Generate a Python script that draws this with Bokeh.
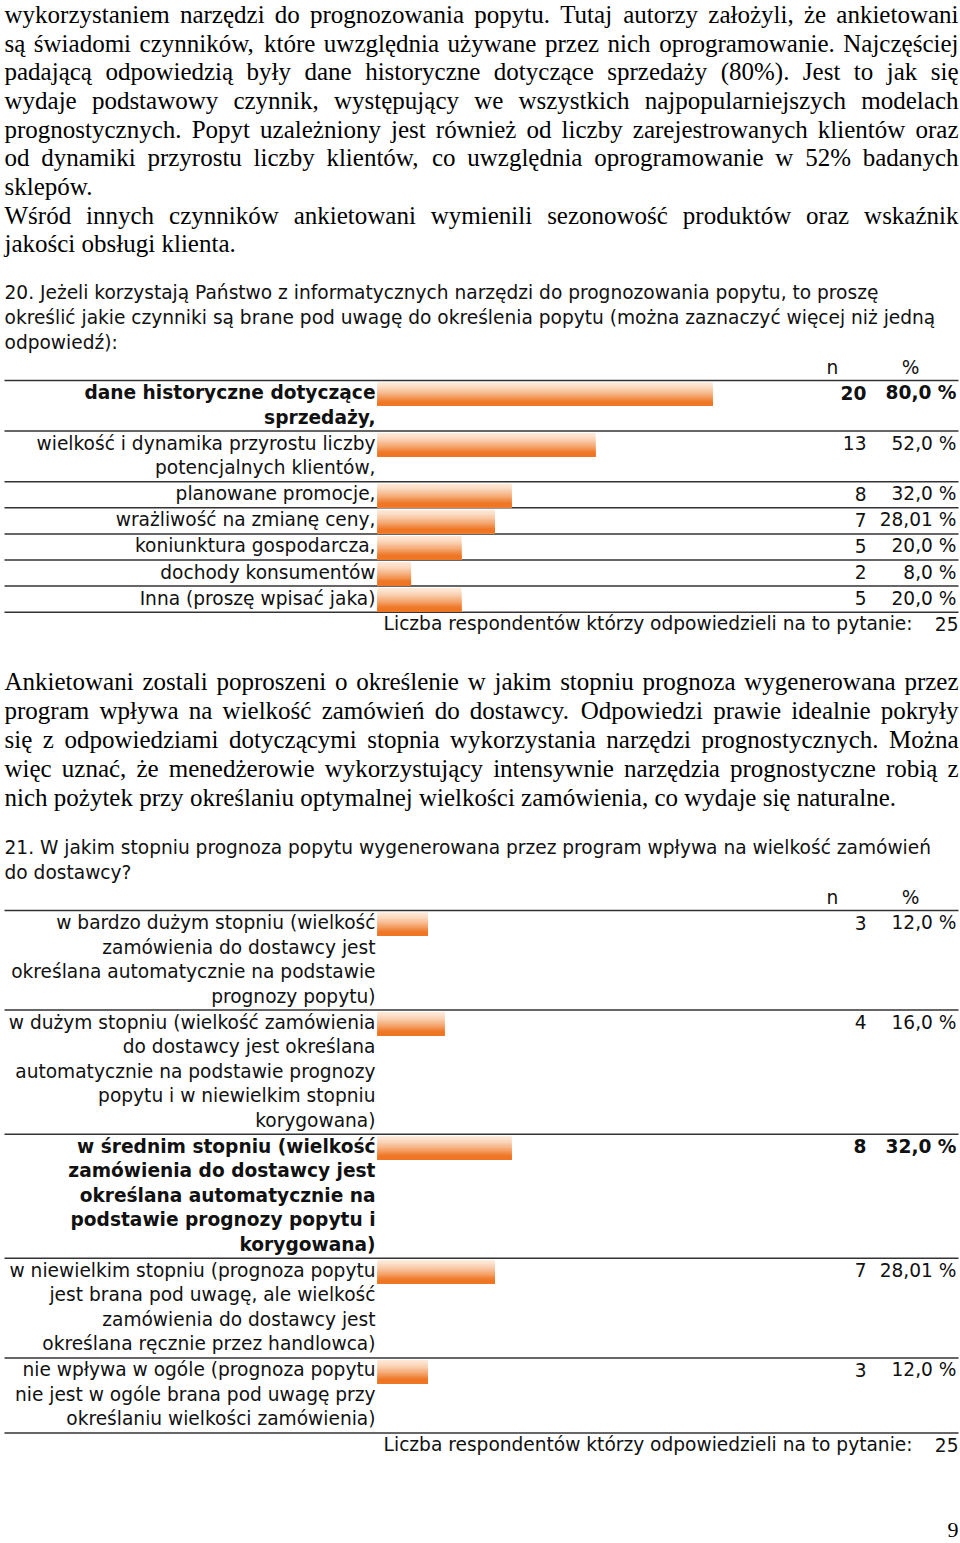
import numpy as np
from bokeh.plotting import figure
from bokeh.models import Range1d, ColumnDataSource
from bokeh.core.properties import value
from bokeh.embed import file_html
from bokeh.resources import INLINE

# ---------------- data ----------------
q20_labels = [
    "dane historyczne dotyczące\nsprzedaży,",
    "wielkość i dynamika przyrostu liczby\npotencjalnych klientów,",
    "planowane promocje,",
    "wrażliwość na zmianę ceny,",
    "koniunktura gospodarcza,",
    "dochody konsumentów",
    "Inna (proszę wpisać jaka)",
]
q20_n = [20, 13, 8, 7, 5, 2, 5]
q20_pct = [80.0, 52.0, 32.0, 28.01, 20.0, 8.0, 20.0]
q20_pct_labels = ["80,0 %", "52,0 %", "32,0 %", "28,01 %", "20,0 %", "8,0 %", "20,0 %"]
q20_total = 25

q21_labels = [
    "w bardzo dużym stopniu (wielkość\nzamówienia do dostawcy jest\nokreślana automatycznie na podstawie\nprognozy popytu)",
    "w dużym stopniu (wielkość zamówienia\ndo dostawcy jest określana\nautomatycznie na podstawie prognozy\npopytu i w niewielkim stopniu\nkorygowana)",
    "w średnim stopniu (wielkość\nzamówienia do dostawcy jest\nokreślana automatycznie na\npodstawie prognozy popytu i\nkorygowana)",
    "w niewielkim stopniu (prognoza popytu\njest brana pod uwagę, ale wielkość\nzamówienia do dostawcy jest\nokreślana ręcznie przez handlowca)",
    "nie wpływa w ogóle (prognoza popytu\nnie jest w ogóle brana pod uwagę przy\nokreślaniu wielkości zamówienia)",
]
q21_n = [3, 4, 8, 7, 3]
q21_pct = [12.0, 16.0, 32.0, 28.01, 12.0]
q21_pct_labels = ["12,0 %", "16,0 %", "32,0 %", "28,01 %", "12,0 %"]
q21_total = 25

footer_text = "Liczba respondentów którzy odpowiedzieli na to pytanie:"

para1 = [
    ("wykorzystaniem narzędzi do prognozowania popytu. Tutaj autorzy założyli, że ankietowani", True),
    ("są świadomi czynników, które uwzględnia używane przez nich oprogramowanie. Najczęściej", True),
    ("padającą odpowiedzią były dane historyczne dotyczące sprzedaży (80%). Jest to jak się", True),
    ("wydaje podstawowy czynnik, występujący we wszystkich najpopularniejszych modelach", True),
    ("prognostycznych. Popyt uzależniony jest również od liczby zarejestrowanych klientów oraz", True),
    ("od dynamiki przyrostu liczby klientów, co uwzględnia oprogramowanie w 52% badanych", True),
    ("sklepów.", False),
    ("Wśród innych czynników ankietowani wymienili sezonowość produktów oraz wskaźnik", True),
    ("jakości obsługi klienta.", False),
]
q20_question = [
    "20. Jeżeli korzystają Państwo z informatycznych narzędzi do prognozowania popytu, to proszę",
    "określić jakie czynniki są brane pod uwagę do określenia popytu (można zaznaczyć więcej niż jedną",
    "odpowiedź):",
]
para2 = [
    ("Ankietowani zostali poproszeni o określenie w jakim stopniu prognoza wygenerowana przez", True),
    ("program wpływa na wielkość zamówień do dostawcy. Odpowiedzi prawie idealnie pokryły", True),
    ("się z odpowiedziami dotyczącymi stopnia wykorzystania narzędzi prognostycznych. Można", True),
    ("więc uznać, że menedżerowie wykorzystujący intensywnie narzędzia prognostyczne robią z", True),
    ("nich pożytek przy określaniu optymalnej wielkości zamówienia, co wydaje się naturalne.", False),
]
q21_question = [
    "21. W jakim stopniu prognoza popytu wygenerowana przez program wpływa na wielkość zamówień",
    "do dostawcy?",
]
page_number = "9"

# ---------------- layout constants ----------------
W, H = 960, 1543
XR = (0, 960)
YR = (1543, 0)
SX = W / (XR[1] - XR[0])
SERIF = "Liberation Serif"
SANS = "DejaVu Sans"
SERIF_FS = 25
SANS_FS = 18.6
LEFT, RIGHT = 4, 958
LABEL_RIGHT = 375
BAR_X0 = 377
PX_PER_PCT = 4.19
N_COL_RIGHT = 866
PCT_COL_RIGHT = 956
LINE_H = 24.5
TEXT_COLOR = "#111111"
RULE_COLOR = "#333333"

# Times New Roman / Liberation Serif advance widths (1/1000 em)
TNR = {" ": 250, "%": 833, "(": 333, ")": 333, ",": 250, ".": 250, ":": 278, "-": 333, "?": 444,
       "A": 722, "B": 667, "C": 667, "D": 722, "E": 611, "F": 556, "G": 722, "H": 722, "I": 333,
       "J": 389, "K": 722, "L": 611, "M": 889, "N": 722, "O": 722, "P": 556, "R": 667, "S": 556,
       "T": 611, "U": 722, "W": 944, "Z": 611, "Ś": 556,
       "a": 444, "b": 500, "c": 444, "d": 500, "e": 444, "f": 333, "g": 500, "h": 500, "i": 278,
       "j": 278, "k": 500, "l": 278, "m": 778, "n": 500, "o": 500, "p": 500, "q": 500, "r": 333,
       "s": 389, "t": 278, "u": 500, "v": 500, "w": 722, "x": 500, "y": 500, "z": 444,
       "ą": 444, "ć": 444, "ę": 444, "ł": 278, "ń": 500, "ó": 500, "ś": 389, "ź": 444, "ż": 444}
for d in "0123456789":
    TNR[d] = 500


def tnr_w(s):
    return sum(TNR.get(ch, 500) for ch in s) / 1000.0


def layout_paragraph(lines, y0, dy, fs):
    xs, ys, words = [], [], []
    avail = (RIGHT - LEFT) * SX
    for i, (line, just) in enumerate(lines):
        ws = line.split(" ")
        wpx = [tnr_w(w) * fs for w in ws]
        if just and len(ws) > 1:
            gap = (avail - sum(wpx)) / (len(ws) - 1)
        else:
            gap = tnr_w(" ") * fs
        cur = 0.0
        for w, wp in zip(ws, wpx):
            xs.append(LEFT + cur / SX)
            ys.append(y0 + i * dy)
            words.append(w)
            cur += wp + gap
    return xs, ys, words


p = figure(width=W, height=H, x_range=Range1d(*XR), y_range=Range1d(*YR),
           output_backend="svg", toolbar_location=None, min_border=0,
           x_axis_location=None, y_axis_location=None, outline_line_color=None)
p.grid.visible = False
p.background_fill_color = "white"
p.border_fill_color = "white"
p.extra_x_ranges = {"pct": Range1d(-BAR_X0 / PX_PER_PCT, (XR[1] - BAR_X0) / PX_PER_PCT)}

# ---------------- serif paragraphs ----------------
sx1, sy1, sw1 = layout_paragraph(para1, 14, 28.65, SERIF_FS)
sx2, sy2, sw2 = layout_paragraph(para2, 681, 29, SERIF_FS)
serif_src = ColumnDataSource(dict(x=sx1 + sx2, y=sy1 + sy2, t=sw1 + sw2))
p.text(x="x", y="y", text="t", source=serif_src, text_font=value(SERIF),
       text_font_size=f"{SERIF_FS}px", text_baseline="middle", text_align="left",
       text_color="black")
p.text(x=[958], y=[1529], text=[page_number], text_font=value(SERIF), text_font_size="22px",
       text_baseline="middle", text_align="right", text_color="black")

# ---------------- question texts ----------------
qy = [292 + i * 25 for i in range(len(q20_question))] + [847 + i * 24.5 for i in range(len(q21_question))]
p.text(x=[LEFT] * len(qy), y=qy, text=q20_question + q21_question, text_font=value(SANS),
       text_font_size=f"{SANS_FS}px", text_baseline="middle", text_align="left", text_color=TEXT_COLOR)

# ---------------- tables ----------------
N_STRIPS = 18
light = np.array([253, 232, 214])
orange = np.array([238, 118, 36])
grad = []
for k in range(N_STRIPS):
    t = k / (N_STRIPS - 1)
    t2 = min(1.0, t / 0.85) ** 1.35
    c = light + (orange - light) * t2
    grad.append("#%02x%02x%02x" % tuple(int(round(v)) for v in c))


def draw_table(labels, ns, pcts, pct_labels, total, top, header_y):
    nlines = [len(l.split("\n")) for l in labels]
    heights = [LINE_H * k + 1.6 for k in nlines]
    tops = list(top + np.concatenate([[0], np.cumsum(heights)[:-1]]))
    bottom = top + sum(heights)
    maxn = max(ns)
    # rules
    rule_y = [top] + [t + h for t, h in zip(tops, heights)]
    p.segment(x0=[LEFT] * len(rule_y), x1=[RIGHT] * len(rule_y), y0=rule_y, y1=rule_y,
              line_color=RULE_COLOR, line_width=1.5)
    # header
    p.text(x=[832, 910], y=[header_y] * 2, text=["n", "%"], text_font=value(SANS),
           text_font_size=f"{SANS_FS}px", text_baseline="middle", text_align="center",
           text_color=TEXT_COLOR)
    # bars: vertical gradient imitated by stacked strips, each reaching the bar bottom
    bh = 23.5
    by, bhs, br, bc = [], [], [], []
    for pct, t in zip(pcts, tops):
        b_top = t + 2
        b_bot = b_top + bh
        for k in range(N_STRIPS):
            s_top = b_top + k * bh / N_STRIPS
            by.append((s_top + b_bot) / 2)
            bhs.append(b_bot - s_top)
            br.append(pct)
            bc.append(grad[k])
    p.hbar(y=by, height=bhs, left=0, right=br, fill_color=bc, line_color=None,
           x_range_name="pct")
    # labels / numbers
    for bold in (False, True):
        lx, ly, lt = [], [], []
        nx, ny, nt = [], [], []
        for lab, n, pl, t in zip(labels, ns, pct_labels, tops):
            if (n == maxn) != bold:
                continue
            for i, line in enumerate(lab.split("\n")):
                lx.append(LABEL_RIGHT)
                ly.append(t + 12 + i * LINE_H)
                lt.append(line)
            nx += [N_COL_RIGHT, PCT_COL_RIGHT]
            ny += [t + 12] * 2
            nt += [str(n), pl]
        style = "bold" if bold else "normal"
        p.text(x=lx, y=ly, text=lt, text_font=value(SANS), text_font_size=f"{SANS_FS}px",
               text_font_style=style, text_baseline="middle", text_align="right",
               text_color=TEXT_COLOR)
        p.text(x=nx, y=ny, text=nt, text_font=value(SANS), text_font_size=f"{SANS_FS}px",
               text_font_style=style, text_baseline="middle", text_align="right",
               text_color=TEXT_COLOR)
    # footer
    p.text(x=[912, RIGHT], y=[bottom + 11.5] * 2, text=[footer_text, str(total)],
           text_font=value(SANS), text_font_size=f"{SANS_FS}px", text_baseline="middle",
           text_align="right", text_color=TEXT_COLOR)


draw_table(q20_labels, q20_n, q20_pct, q20_pct_labels, q20_total, 380, 367)
draw_table(q21_labels, q21_n, q21_pct, q21_pct_labels, q21_total, 910, 897)

open("out.html", "w").write(file_html(p, INLINE))
